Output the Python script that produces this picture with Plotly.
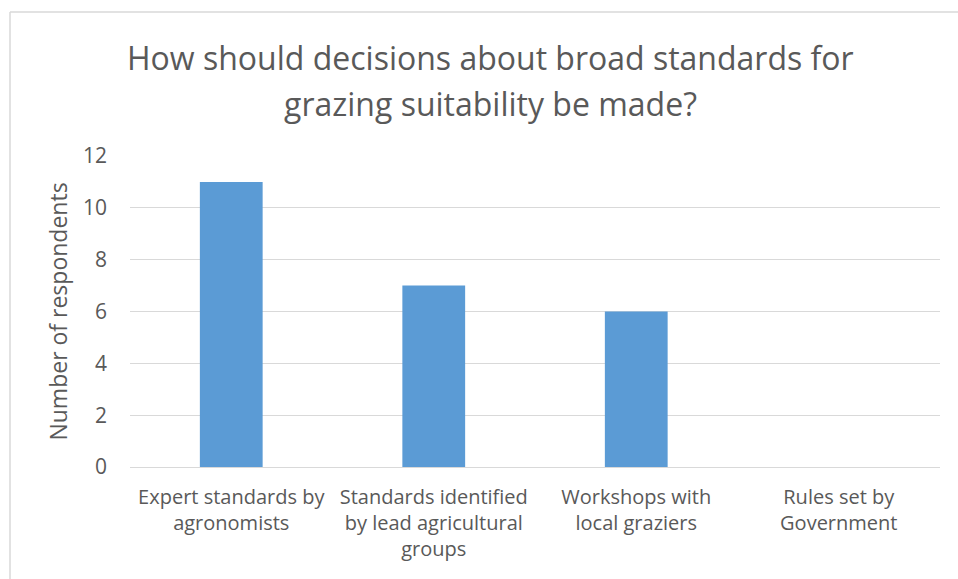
import plotly.graph_objects as go

# Survey responses
categories = [
    "Expert standards by<br>agronomists",
    "Standards identified<br>by lead agricultural<br>groups",
    "Workshops with<br>local graziers",
    "Rules set by<br>Government",
]
respondents = [11, 7, 6, 0]
y_ticks = [0, 2, 4, 6, 8, 10, 12]

title_lines = [
    "How should decisions about broad standards for",
    "grazing suitability be made?",
]
y_title = "Number of respondents"

text_color = "#595959"
grid_color = "#D9D9D9"
bar_color = "#5B9BD5"
font_family = "Open Sans"

# plot area geometry in pixels
L, R, T, B = 130, 18, 156, 112
W, H = 958, 579
pw, ph = W - L - R, H - T - B


def px_x(x):
    return (x - L) / pw


def px_y(y):
    return 1 + (T - y) / ph


fig = go.Figure(
    go.Bar(
        x=categories,
        y=respondents,
        marker=dict(color=bar_color, line=dict(width=0)),
        width=0.31,
    )
)

title_annotations = [
    dict(text=line, xref="paper", yref="paper", x=px_x(490), y=px_y(yc),
         xanchor="center", yanchor="middle", showarrow=False,
         font=dict(family=font_family, size=32, color=text_color))
    for line, yc in zip(title_lines, [57, 104])
]

fig.update_layout(
    width=W,
    height=H,
    margin=dict(l=L, r=R, t=T, b=B),
    paper_bgcolor="white",
    plot_bgcolor="white",
    showlegend=False,
    font=dict(family=font_family, color=text_color, size=20),
    annotations=title_annotations,
    xaxis=dict(
        showgrid=False,
        showline=True,
        linecolor=grid_color,
        linewidth=1,
        ticks="",
        tickfont=dict(size=20, color=text_color),
        ticklabelstandoff=12,
        fixedrange=True,
    ),
    yaxis=dict(
        range=[0, 12],
        tickvals=y_ticks,
        showgrid=True,
        gridcolor=grid_color,
        gridwidth=1,
        zeroline=False,
        showline=False,
        ticks="",
        tickfont=dict(size=21, color=text_color),
        ticklabelstandoff=22,
        title=dict(text=y_title, font=dict(size=23, color=text_color), standoff=8),
        fixedrange=True,
    ),
    shapes=[
        # chart frame (left and top edges)
        dict(type="line", xref="paper", yref="paper",
             x0=px_x(10), x1=px_x(10), y0=px_y(12), y1=px_y(700),
             line=dict(color=grid_color, width=1.5)),
        dict(type="line", xref="paper", yref="paper",
             x0=px_x(10), x1=px_x(1100), y0=px_y(12), y1=px_y(12),
             line=dict(color=grid_color, width=1.5)),
    ],
)

fig.write_html("out.html")
